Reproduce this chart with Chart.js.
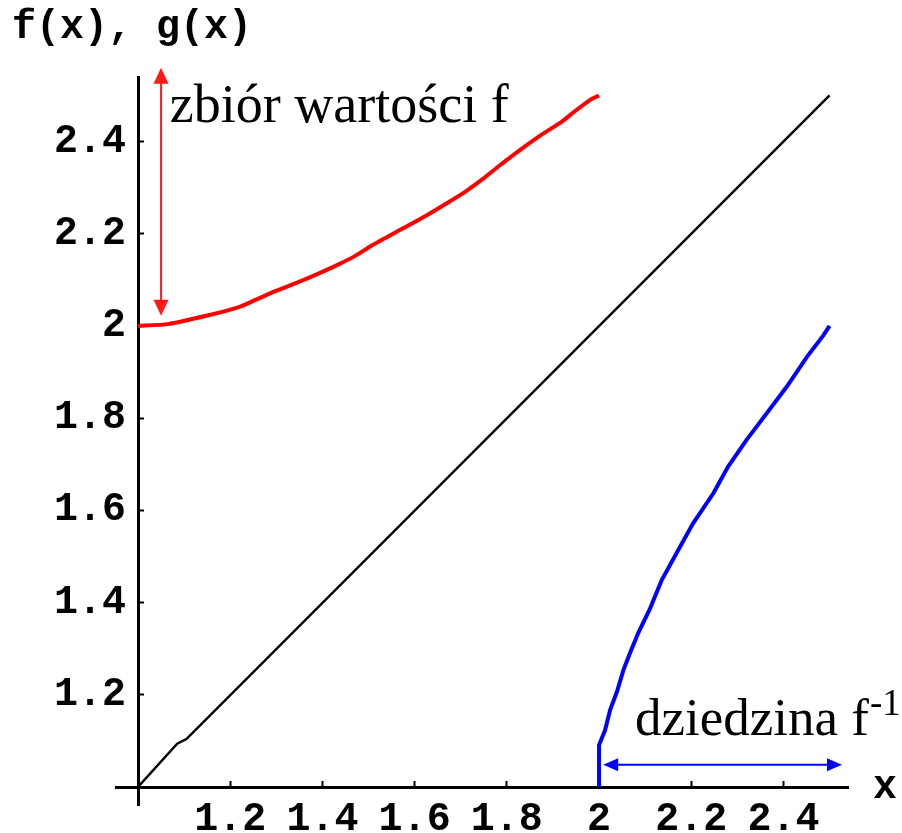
<!DOCTYPE html>
<html>
<head>
<meta charset="utf-8">
<title>f(x), g(x)</title>
<script src="https://cdn.jsdelivr.net/npm/chart.js@4.4.0/dist/chart.umd.min.js"></script>
<style>
  html, body { margin: 0; padding: 0; background: #ffffff; }
  canvas { display: block; }
</style>
</head>
<body>
<canvas id="chart" width="902" height="833"></canvas>
<script>
// f on [1, 2] (red), its inverse on [2, 2.5] (blue), and y = x (black)
const redX = [1.0, 1.065, 1.148, 1.219, 1.256, 1.299, 1.345, 1.39, 1.434, 1.471, 1.508, 1.568,
              1.623, 1.668, 1.711, 1.748, 1.783, 1.829, 1.874, 1.918, 1.944, 1.98, 2.0];
const redY = [2.0, 2.004, 2.022, 2.041, 2.057, 2.076, 2.094, 2.113, 2.133, 2.152, 2.175, 2.208,
              2.238, 2.265, 2.292, 2.319, 2.347, 2.382, 2.414, 2.442, 2.463, 2.49, 2.5];

const blueX = [2.0, 2.0, 2.013, 2.024, 2.039, 2.053, 2.067, 2.085, 2.111, 2.136, 2.168, 2.204,
               2.248, 2.28, 2.32, 2.364, 2.407, 2.451, 2.487, 2.5];
const blueY = [1.0, 1.091, 1.123, 1.167, 1.207, 1.254, 1.29, 1.334, 1.388, 1.449, 1.507, 1.572,
               1.637, 1.695, 1.753, 1.811, 1.868, 1.933, 1.98, 2.0];

const blackX = [1.0, 1.085, 1.105, 2.5];
const blackY = [1.0, 1.094, 1.104, 2.5];

// tick labels (origin 1 is not labelled)
const xTicks = [1.2, 1.4, 1.6, 1.8, 2.0, 2.2, 2.4];
const yTicks = [1.2, 1.4, 1.6, 1.8, 2.0, 2.2, 2.4];

const toPoints = (xs, ys) => xs.map((x, i) => ({ x: x, y: ys[i] }));

const monoFont = { family: 'Liberation Mono', size: 40, weight: 'bold' };

// same rounding chart.js uses for the 3px axis border
const alignPx = (p, w) => Math.round(p - w / 2) + w / 2;

function drawArrowHead(ctx, tipX, tipY, dirX, dirY, len, halfW) {
    const bx = tipX - dirX * len, by = tipY - dirY * len;
    ctx.beginPath();
    ctx.moveTo(tipX, tipY);
    ctx.lineTo(bx - dirY * halfW, by + dirX * halfW);
    ctx.lineTo(bx + dirY * halfW, by - dirX * halfW);
    ctx.closePath();
    ctx.fill();
}

function doubleArrow(ctx, x1, y1, x2, y2, color, lineW, headLen, halfW) {
    const d = Math.hypot(x2 - x1, y2 - y1);
    const ux = (x2 - x1) / d, uy = (y2 - y1) / d;
    ctx.strokeStyle = color;
    ctx.fillStyle = color;
    ctx.lineWidth = lineW;
    ctx.beginPath();
    ctx.moveTo(x1 + ux * headLen * 0.8, y1 + uy * headLen * 0.8);
    ctx.lineTo(x2 - ux * headLen * 0.8, y2 - uy * headLen * 0.8);
    ctx.stroke();
    drawArrowHead(ctx, x1, y1, -ux, -uy, headLen, halfW);
    drawArrowHead(ctx, x2, y2, ux, uy, headLen, halfW);
}

const annotations = {
    id: 'annotations',
    afterDraw(chart) {
        const { ctx, scales: { x, y } } = chart;
        const px = v => x.getPixelForValue(v);
        const py = v => y.getPixelForValue(v);
        ctx.save();

        // axis stubs past the origin
        const ox = alignPx(px(1), 3), oy = alignPx(py(1), 3);
        ctx.strokeStyle = '#000';
        ctx.lineWidth = 3;
        ctx.beginPath();
        ctx.moveTo(px(0.95), oy);
        ctx.lineTo(ox, oy);
        ctx.moveTo(ox, oy);
        ctx.lineTo(ox, py(0.959));
        ctx.stroke();

        // axis names
        ctx.fillStyle = '#000';
        ctx.font = 'bold 40px "Liberation Mono"';
        ctx.textBaseline = 'alphabetic';
        ctx.textAlign = 'left';
        ctx.fillText('f(x), g(x)', 12, 38);
        ctx.fillText('x', 873, 798);

        // range of f
        doubleArrow(ctx, px(1.05), py(2.56), px(1.05), py(2.022), '#ff1a1a', 2, 16, 7.5);
        ctx.fillStyle = '#000';
        ctx.font = '54px "Liberation Serif"';
        ctx.fillText('zbiór wartości f', px(1.069), py(2.443));

        // domain of f^-1
        doubleArrow(ctx, px(2.009), py(1.048), px(2.527), py(1.048), '#0000ff', 2, 15, 6.5);
        ctx.fillStyle = '#000';
        ctx.font = '53px "Liberation Serif"';
        const tx = px(2.078), ty = py(1.113);
        ctx.fillText('dziedzina f', tx, ty);
        const w = ctx.measureText('dziedzina f').width;
        ctx.font = '37px "Liberation Serif"';
        ctx.fillText('-1', tx + w + 1, ty - 20);

        ctx.restore();
    }
};

new Chart(document.getElementById('chart'), {
    type: 'scatter',
    data: {
        datasets: [
            {
                label: 'y = x',
                data: toPoints(blackX, blackY),
                showLine: true,
                borderColor: '#000000',
                borderWidth: 2.5,
                pointRadius: 0,
                clip: false
            },
            {
                label: 'f',
                data: toPoints(redX, redY),
                showLine: true,
                borderColor: '#ff0000',
                borderWidth: 4,
                pointRadius: 0,
                tension: 0.2,
                clip: false
            },
            {
                label: 'f^-1',
                data: toPoints(blueX, blueY),
                showLine: true,
                borderColor: '#0000ff',
                borderWidth: 4,
                pointRadius: 0,
                clip: false
            }
        ]
    },
    options: {
        responsive: false,
        animation: false,
        layout: { padding: { left: 0, right: 54, top: 77, bottom: 0 } },
        plugins: {
            legend: { display: false },
            tooltip: { enabled: false }
        },
        scales: {
            x: {
                type: 'linear',
                min: 1,
                max: 2.54,
                afterFit: (s) => { s.height = 46; },
                afterBuildTicks: (s) => { s.ticks = xTicks.map(v => ({ value: v })); },
                grid: {
                    drawOnChartArea: false,
                    drawTicks: true,
                    tickLength: -6,
                    tickWidth: 2,
                    tickColor: '#000'
                },
                border: { display: true, width: 3, color: '#000' },
                ticks: {
                    autoSkip: false,
                    maxRotation: 0,
                    padding: 15,
                    color: '#000',
                    font: monoFont,
                    callback: (v) => String(Math.round(v * 10) / 10)
                }
            },
            y: {
                type: 'linear',
                min: 1,
                max: 2.54,
                afterFit: (s) => { s.width = 138; },
                afterBuildTicks: (s) => { s.ticks = yTicks.map(v => ({ value: v })); },
                grid: {
                    drawOnChartArea: false,
                    drawTicks: true,
                    tickLength: -6,
                    tickWidth: 2,
                    tickColor: '#000'
                },
                border: { display: true, width: 3, color: '#000' },
                ticks: {
                    autoSkip: false,
                    padding: 18,
                    color: '#000',
                    font: monoFont,
                    callback: (v) => String(Math.round(v * 10) / 10)
                }
            }
        }
    },
    plugins: [annotations]
});
</script>
</body>
</html>
